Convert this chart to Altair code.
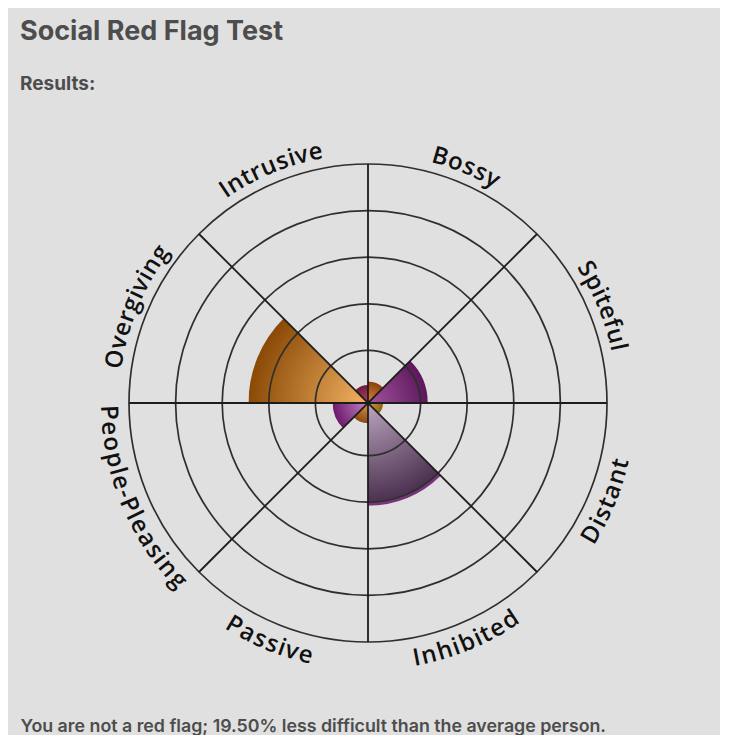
import math
import altair as alt
import pandas as pd

# ---------------- data ----------------
categories = ["Bossy", "Spiteful", "Distant", "Inhibited",
              "Passive", "People-Pleasing", "Overgiving", "Intrusive"]
scores = [9.0, 25.0, 6.3, 43.0, 8.5, 14.8, 50.0, 7.5]
inner_colors = ["#e08a3c", "#a4539c", "#d2a844", "#bba5c0",
                "#e39a48", "#c586c4", "#f3b262", "#b2486a"]
outer_colors = ["#8c3f0c", "#5c185c", "#8a6410", "#4c3250",
                "#8a4810", "#6c1a6c", "#8a4a06", "#6e1a3a"]
rim_colors = [None, None, None, "#74357a", None, None, None, None]
grid_levels = [22, 41.5, 61, 80.5, 100]
spoke_angles = [0, 45, 90, 135]

title_text = "Social Red Flag Test"
subtitle_text = "Results:"
footer_text = "You are not a red flag; 19.50% less difficult than the average person."

# ---------------- geometry ----------------
W, H = 696, 562
R_PX = 239.0
UNIT = R_PX / 100.0
x_scale = alt.Scale(domain=[-W / 2 / UNIT, W / 2 / UNIT], nice=False, zero=False)
y_scale = alt.Scale(domain=[-H / 2 / UNIT, H / 2 / UNIT], nice=False, zero=False)
r_scale = alt.Scale(type="linear", domain=[0, 100], range=[0, R_PX], nice=False, zero=True)

footer_axis = alt.Axis(title=footer_text, domain=False, ticks=False, labels=False,
                       grid=False, titleFont="Inter", titleFontSize=17.8,
                       titleFontWeight=600, titleColor="#4d4d4d",
                       titleAnchor="start", titleAlign="left", titlePadding=33)

step = 2 * math.pi / len(categories)
sec_df = pd.DataFrame({
    "category": categories,
    "r": scores,
    "t0": [i * step for i in range(len(categories))],
    "t1": [(i + 1) * step for i in range(len(categories))],
})


def radial_fill(a0, a1, inner, outer, rim):
    pts = [(0.0, 0.0)]
    angs = [a0, a1] + [k * math.pi / 2 for k in range(5) if a0 < k * math.pi / 2 < a1]
    for a in angs:
        pts.append((math.sin(a), -math.cos(a)))
    xs = [p[0] for p in pts]
    ys = [p[1] for p in pts]
    w, h = max(xs) - min(xs), max(ys) - min(ys)
    s = max(w, h)
    cxb, cyb = (max(xs) + min(xs)) / 2, (max(ys) + min(ys)) / 2
    u = (0 - (cxb - s / 2)) / s
    v = (0 - (cyb - s / 2)) / s
    stops = [{"offset": 0, "color": inner}]
    if rim:
        stops += [{"offset": 0.955, "color": outer}, {"offset": 0.97, "color": rim},
                  {"offset": 1, "color": rim}]
    else:
        stops += [{"offset": 1, "color": outer}]
    return {"gradient": "radial", "x1": u, "y1": v, "r1": 0,
            "x2": u, "y2": v, "r2": 1 / s, "stops": stops}


layers = []
for i, cat in enumerate(categories):
    grad = radial_fill(i * step, (i + 1) * step, inner_colors[i], outer_colors[i], rim_colors[i])
    layers.append(
        alt.Chart(sec_df).transform_filter(alt.datum.category == cat)
        .mark_arc(fill=grad)
        .encode(theta=alt.Theta("t0:Q", scale=None, stack=None),
                theta2="t1:Q",
                radius=alt.Radius("r:Q", scale=r_scale))
    )

grid_df = pd.DataFrame({"r": grid_levels, "t0": [0.0] * len(grid_levels),
                        "t1": [2 * math.pi] * len(grid_levels)})
circles = alt.Chart(grid_df).mark_arc(filled=False, stroke="#2f2f2f", strokeWidth=1.7).encode(
    theta=alt.Theta("t0:Q", scale=None, stack=None),
    theta2="t1:Q",
    radius=alt.Radius("r:Q", scale=r_scale),
)

sp = pd.DataFrame({"a": spoke_angles})
sp["x"] = [100 * math.sin(math.radians(a)) for a in spoke_angles]
sp["y"] = [100 * math.cos(math.radians(a)) for a in spoke_angles]
sp["x2"] = -sp["x"]
sp["y2"] = -sp["y"]
spokes = alt.Chart(sp).mark_rule(color="#1c1c1c", strokeWidth=1.8).encode(
    x=alt.X("x:Q", scale=x_scale, axis=footer_axis),
    y=alt.Y("y:Q", scale=y_scale, axis=None),
    x2="x2:Q", y2="y2:Q",
)

# ---------------- curved labels (one text item per character) ----------------
CW = {"a": .556, "b": .613, "c": .476, "d": .613, "e": .561, "f": .339, "g": .548,
      "h": .614, "i": .253, "l": .253, "n": .614, "o": .604, "p": .613, "r": .408,
      "s": .477, "t": .353, "u": .614, "v": .501, "y": .501, "I": .293, "B": .631,
      "D": .732, "S": .55, "P": .586, "O": .781, "-": .322}
FS = 24
LS = 1.0
R_TOP = 249.0
R_BOT = 267.0
R_ARC = 257.0
rows = []
for i, cat in enumerate(categories):
    phi_c = (i + 0.5) * 45.0
    adv = [CW.get(c, 0.55) * 1.04 * FS + LS for c in cat]
    total = sum(adv) - LS
    top = phi_c < 90 or phi_c > 270
    cum = 0.0
    for c, a in zip(cat, adv):
        off = cum + (a - LS) / 2 - total / 2
        dphi = math.degrees(off / R_ARC)
        if top:
            phi, r, ang = phi_c + dphi, R_TOP, (phi_c + dphi) % 360
        else:
            phi, r, ang = phi_c - dphi, R_BOT, (phi_c - dphi - 180) % 360
        rows.append({"ch": c, "x": r / UNIT * math.sin(math.radians(phi)),
                     "y": r / UNIT * math.cos(math.radians(phi)), "ang": ang})
        cum += a
char_df = pd.DataFrame(rows)
labels = alt.Chart(char_df).mark_text(font="Open Sans", fontSize=FS, fontWeight=600,
                                      align="center", baseline="alphabetic",
                                      color="#111111").encode(
    x=alt.X("x:Q", scale=x_scale, axis=footer_axis),
    y=alt.Y("y:Q", scale=y_scale, axis=None),
    text="ch:N",
    angle=alt.Angle("ang:Q", scale=None),
)

chart = alt.layer(*layers, circles, spokes, labels).properties(
    width=W, height=H,
    padding={"left": 12, "top": 10, "right": 4, "bottom": 0},
    background="#e0e0e0",
    title=alt.TitleParams(text=title_text, subtitle=subtitle_text, anchor="start",
                          frame="group", font="Inter", fontSize=27, fontWeight="bold",
                          color="#4d4d4d", subtitleFont="Inter", subtitleFontSize=19,
                          subtitleFontWeight="bold", subtitleColor="#4d4d4d",
                          subtitlePadding=29, offset=27),
).configure_view(stroke=None)

chart.save("out.html", embed_options={"renderer": "svg", "actions": False})
